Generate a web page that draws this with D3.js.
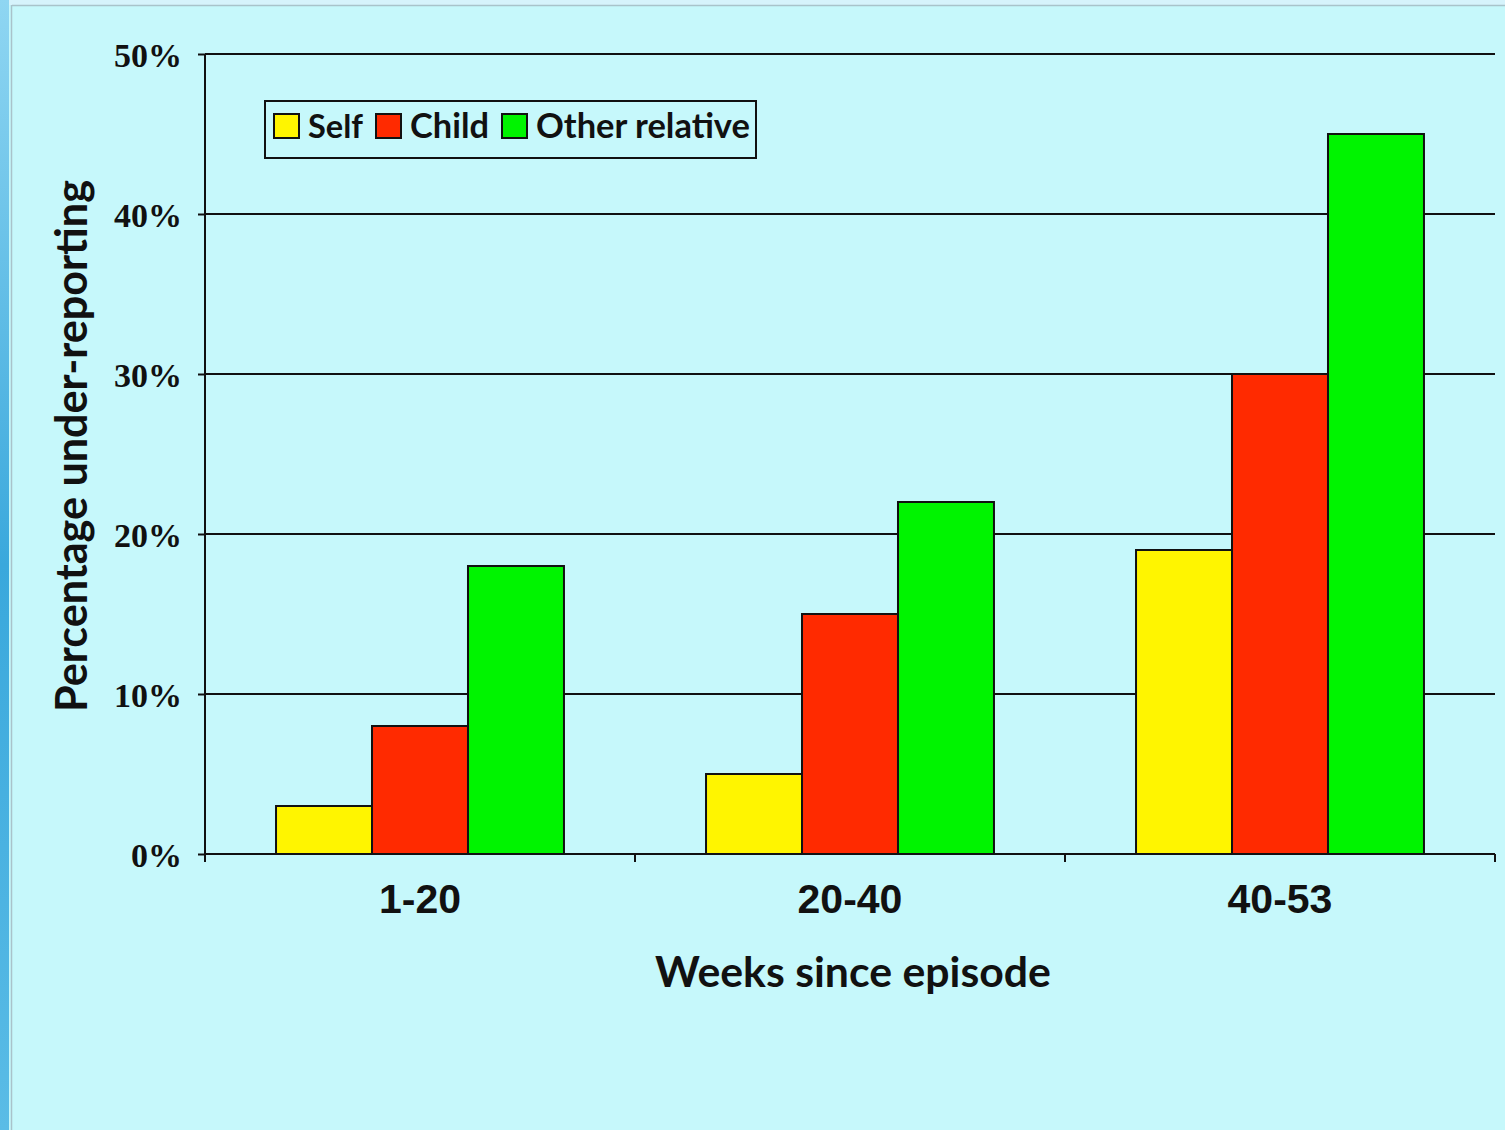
<!DOCTYPE html>
<html>
<head>
<meta charset="utf-8">
<script src="https://cdn.jsdelivr.net/npm/d3@7/dist/d3.min.js"></script>
<style>
  html, body { margin: 0; padding: 0; background: #c6f8fb; }
  svg { display: block; }
</style>
</head>
<body>
<svg id="chart" width="1505" height="1130"></svg>
<script>
// Under-reporting by recall period and respondent
const categories = ["1-20", "20-40", "40-53"];
const seriesNames = ["Self", "Child", "Other relative"];
const selfValues = [3, 5, 19];
const childValues = [8, 15, 30];
const otherValues = [18, 22, 45];
const yTicks = [0, 10, 20, 30, 40, 50];
const seriesColors = ["#fff500", "#ff2a00", "#00f400"];

const seriesValues = [selfValues, childValues, otherValues];

const svg = d3.select("#chart");
const W = 1505, H = 1130;

// slide frame
svg.append("rect").attr("width", W).attr("height", H).attr("fill", "#c6f8fb");
svg.append("rect").attr("x", 0).attr("y", 0).attr("width", W).attr("height", 5).attr("fill", "#d6f3fb");
svg.append("line").attr("x1", 12).attr("x2", W).attr("y1", 5.5).attr("y2", 5.5)
  .attr("stroke", "#a9c3ca").attr("stroke-width", 1.5);
const grad = svg.append("defs").append("linearGradient").attr("id", "edge")
  .attr("x1", 0).attr("x2", 0).attr("y1", 0).attr("y2", 1);
grad.append("stop").attr("offset", "0%").attr("stop-color", "#8fd6f2");
grad.append("stop").attr("offset", "50%").attr("stop-color", "#3aa8dc");
grad.append("stop").attr("offset", "100%").attr("stop-color", "#5abce6");
svg.append("rect").attr("x", 0).attr("y", 0).attr("width", 9).attr("height", H).attr("fill", "url(#edge)");
svg.append("line").attr("x1", 11.5).attr("x2", 11.5).attr("y1", 5).attr("y2", H)
  .attr("stroke", "#a9c3ca").attr("stroke-width", 1.5);

const plotLeft = 205, plotRight = 1495, plotTop = 54, plotBottom = 854;

const x = d3.scaleBand().domain(categories).range([plotLeft, plotRight]).paddingInner(0).paddingOuter(0);
const inner = d3.scaleBand().domain(seriesNames).range([0, x.bandwidth()]).paddingOuter(0.74).paddingInner(0);
const y = d3.scaleLinear().domain([0, 50]).range([plotBottom, plotTop]);

// gridlines
const g = svg.append("g");
g.selectAll("line.grid").data(yTicks.filter(t => t > 0)).join("line")
  .attr("class", "grid")
  .attr("x1", plotLeft).attr("x2", plotRight)
  .attr("y1", d => y(d)).attr("y2", d => y(d))
  .attr("stroke", "#111").attr("stroke-width", 2);

// bars
const groups = g.selectAll("g.cat").data(categories).join("g")
  .attr("class", "cat")
  .attr("transform", d => `translate(${x(d)},0)`);
groups.selectAll("rect").data((c, i) => seriesNames.map((s, j) => ({ s, j, v: seriesValues[j][i] }))).join("rect")
  .attr("x", d => inner(d.s))
  .attr("width", inner.bandwidth())
  .attr("y", d => y(d.v))
  .attr("height", d => y(0) - y(d.v))
  .attr("fill", d => seriesColors[d.j])
  .attr("stroke", "#111").attr("stroke-width", 2);

// y axis
const yAxis = d3.axisLeft(y).tickValues(yTicks).tickFormat(d => d + "%").tickSize(7).tickPadding(16);
const ya = svg.append("g").attr("transform", `translate(${plotLeft},0)`).call(yAxis);
ya.select(".domain").attr("stroke", "#111").attr("stroke-width", 2).attr("d", `M0,${plotTop}V${plotBottom + 8}`);
ya.selectAll(".tick line").attr("stroke", "#111").attr("stroke-width", 2);
ya.selectAll(".tick text")
  .attr("font-family", "'Liberation Serif', 'Times New Roman', serif")
  .attr("font-weight", "bold").attr("font-size", 34).attr("fill", "#111")
  .attr("dy", "0.36em").attr("x", -23);

// x axis
const xAxis = d3.axisBottom(x).tickSize(0).tickPadding(0);
const xa = svg.append("g").attr("transform", `translate(0,${plotBottom})`).call(xAxis);
xa.select(".domain").attr("stroke", "#111").attr("stroke-width", 2).attr("d", `M${plotLeft},0H${plotRight}`);
xa.selectAll(".tick text")
  .attr("font-family", "'Liberation Sans', Arial, sans-serif")
  .attr("font-weight", "bold").attr("font-size", 41).attr("fill", "#111")
  .attr("y", 59).attr("dy", 0);
// boundary ticks between categories
xa.selectAll("line.bound").data(categories.map(c => x(c)).concat([plotRight])).join("line")
  .attr("class", "bound")
  .attr("x1", d => d).attr("x2", d => d).attr("y1", 0).attr("y2", 8)
  .attr("stroke", "#111").attr("stroke-width", 2);

// scale a label's font so that it spans a given width
function fitText(sel, width, base) {
  sel.attr("font-size", base);
  const w = sel.node().getComputedTextLength();
  sel.attr("font-size", base * width / w);
}

const titleFont = "Lato, 'Open Sans', 'DejaVu Sans', sans-serif";

// axis titles
const xt = svg.append("text").attr("x", 853).attr("y", 987)
  .attr("text-anchor", "middle").attr("font-family", titleFont)
  .attr("font-weight", "bold").attr("fill", "#111")
  .text("Weeks since episode");
fitText(xt, 396, 40);

const yt = svg.append("text")
  .attr("transform", "translate(87,446) rotate(-90)")
  .attr("text-anchor", "middle").attr("font-family", titleFont)
  .attr("font-weight", "bold").attr("fill", "#111")
  .text("Percentage under-reporting");
fitText(yt, 532, 38);

// legend
const lg = svg.append("g");
lg.append("rect").attr("x", 265).attr("y", 101).attr("width", 491).attr("height", 57)
  .attr("fill", "none").attr("stroke", "#111").attr("stroke-width", 2);
const legendX = [274, 376, 502];
const legendW = [55, 79, 214];
seriesNames.forEach((s, j) => {
  lg.append("rect").attr("x", legendX[j]).attr("y", 114).attr("width", 25).attr("height", 24)
    .attr("fill", seriesColors[j]).attr("stroke", "#111").attr("stroke-width", 2);
  const t = lg.append("text").attr("x", legendX[j] + 34).attr("y", 138)
    .attr("font-family", titleFont).attr("font-weight", "bold").attr("fill", "#111")
    .text(s);
  fitText(t, legendW[j], 33);
});
</script>
</body>
</html>
